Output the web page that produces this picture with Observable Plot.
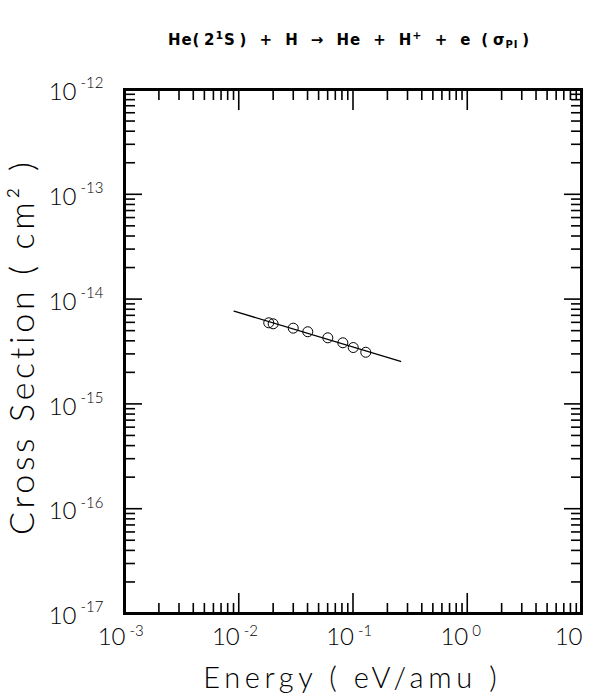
<!DOCTYPE html>
<html><head><meta charset="utf-8">
<script src="https://cdn.jsdelivr.net/npm/d3@7"></script>
<script src="https://cdn.jsdelivr.net/npm/@observablehq/plot@0.6"></script>
<style>
body{margin:0;background:#fff;}
#wrap{width:594px;}
#title{height:70px;position:relative;width:594px;}
#title .t{position:absolute;left:349px;top:33px;transform:translateX(-50%);white-space:nowrap;
  font-family:"DejaVu Sans","Liberation Sans",sans-serif;font-weight:bold;font-size:15px;letter-spacing:1.5px;line-height:15px;color:#000;}
#title sup{font-size:11px;vertical-align:6px;line-height:0;}
#title sub{font-size:10px;vertical-align:-3px;line-height:0;}
</style>
</head><body>
<div id="wrap">
<div id="title"><span class="t" id="tt">He(&thinsp;2<sup>1</sup>S&thinsp;) &nbsp;+&nbsp; H &nbsp;→&nbsp; He &nbsp;+&nbsp; H<sup>+</sup> &nbsp;+&nbsp; e &thinsp;(&thinsp;σ<sub>PI</sub>&thinsp;)</span></div>
<div id="chart"></div>
</div>
<script>
// Measured points (energy in eV/amu, cross section in cm^2)
const energy = [0.0183, 0.0200, 0.0300, 0.0402, 0.0602, 0.0815, 0.1005, 0.1294];
const sigma  = [5.94e-15, 5.81e-15, 5.28e-15, 4.88e-15, 4.27e-15, 3.83e-15, 3.45e-15, 3.11e-15];
// Fitted line endpoints
const fitEnergy = [0.0091, 0.261];
const fitSigma  = [7.67e-15, 2.54e-15];
// Tick labels
const xTickValues = [1e-3, 1e-2, 1e-1, 1, 10];
const xTickExps   = ["-3", "-2", "-1", "0", ""];
const yTickValues = [1e-17, 1e-16, 1e-15, 1e-14, 1e-13, 1e-12];
const yTickExps   = ["-17", "-16", "-15", "-14", "-13", "-12"];
const xLabel = "Energy ( eV/amu )";
const yLabel = "Cross Section ( cm² )";

const points = energy.map((e, i) => ({e, s: sigma[i]}));
const fit = fitEnergy.map((e, i) => ({e, s: fitSigma[i]}));
const mult = [2,3,4,5,6,7,8,9];
const xMinor = xTickValues.slice(0, -1).flatMap(d => mult.map(m => d * m));
const yMinor = yTickValues.slice(0, -1).flatMap(d => mult.map(m => d * m));

const font = 'Lato,"Open Sans","DejaVu Sans",sans-serif';
const tk = 1.6;

const chart = Plot.plot({
  width: 594,
  height: 626,
  marginLeft: 124,
  marginRight: 13,
  marginTop: 19,
  marginBottom: 83,
  style: {fontFamily: font, fontWeight: 300, color: "#000", background: "#fff"},
  x: {type: "log", domain: [1e-3, 10], axis: null},
  y: {type: "log", domain: [1e-17, 1e-12], axis: null},
  marks: [
    // inward ticks, all four sides
    Plot.axisX({ticks: xMinor, anchor: "bottom", tickSize: -10, text: null, label: null, strokeWidth: tk}),
    Plot.axisX({ticks: xTickValues, anchor: "bottom", tickSize: -20, text: null, label: null, strokeWidth: tk}),
    Plot.axisX({ticks: xMinor, anchor: "top", tickSize: -10, text: null, label: null, strokeWidth: tk}),
    Plot.axisX({ticks: xTickValues, anchor: "top", tickSize: -20, text: null, label: null, strokeWidth: tk}),
    Plot.axisY({ticks: yMinor, anchor: "left", tickSize: -11, text: null, label: null, strokeWidth: tk}),
    Plot.axisY({ticks: yTickValues, anchor: "left", tickSize: -18, text: null, label: null, strokeWidth: tk}),
    Plot.axisY({ticks: yMinor, anchor: "right", tickSize: -11, text: null, label: null, strokeWidth: tk}),
    Plot.axisY({ticks: yTickValues, anchor: "right", tickSize: -18, text: null, label: null, strokeWidth: tk}),
    Plot.frame({stroke: "#000", strokeWidth: 3}),
    // x tick labels
    Plot.text(xTickValues, {x: d => d, text: () => "10", frameAnchor: "bottom", textAnchor: "end", lineAnchor: "middle", dx: 1, dy: 24, fontSize: 24}),
    Plot.text(xTickValues, {x: d => d, text: (d, i) => xTickExps[i], frameAnchor: "bottom", textAnchor: "start", lineAnchor: "middle", dx: 5, dy: 18, fontSize: 15}),
    // y tick labels
    Plot.text(yTickValues, {y: d => d, text: () => "10", frameAnchor: "left", textAnchor: "end", lineAnchor: "middle", dx: -48, dy: 3, fontSize: 24}),
    Plot.text(yTickValues, {y: d => d, text: (d, i) => yTickExps[i], frameAnchor: "left", textAnchor: "start", lineAnchor: "middle", dx: -44, dy: -6, fontSize: 15}),
    // axis titles
    Plot.text([xLabel], {text: d => d, frameAnchor: "bottom", textAnchor: "middle", lineAnchor: "middle", dy: 65, dx: -3, fontSize: 29}),
    Plot.text([yLabel], {text: d => d, frameAnchor: "left", textAnchor: "middle", rotate: -90, lineAnchor: "middle", dx: -101, dy: -3, fontSize: 34}),
    // data
    Plot.line(fit, {x: "e", y: "s", stroke: "#000", strokeWidth: 1.3}),
    Plot.dot(points, {x: "e", y: "s", r: 5, stroke: "#000", strokeWidth: 1, fill: "none"})
  ]
});
document.getElementById("chart").appendChild(chart);

// widen axis titles to the reference's letter spacing
function spread(label, target) {
  d3.select(chart).selectAll("text")
    .filter(function() { return this.textContent === label; })
    .each(function() {
      const natural = this.getComputedTextLength();
      const n = label.length;
      const ls = Math.max(0, (target - natural) / n);
      this.style.letterSpacing = ls + "px";
      const t = d3.select(this);
      const cur = +t.attr("dx") || 0;
      t.attr("dx", cur + ls / 2);
    });
}
spread(xLabel, 298);
spread(yLabel, 377);

// fit the title to the reference width
const tt = document.getElementById("tt");
const target = 362;
const n = tt.textContent.length;
const w = tt.getBoundingClientRect().width;
const ls = 1.5 + (target - w) / n;
tt.style.letterSpacing = ls + "px";
</script>
</body></html>
